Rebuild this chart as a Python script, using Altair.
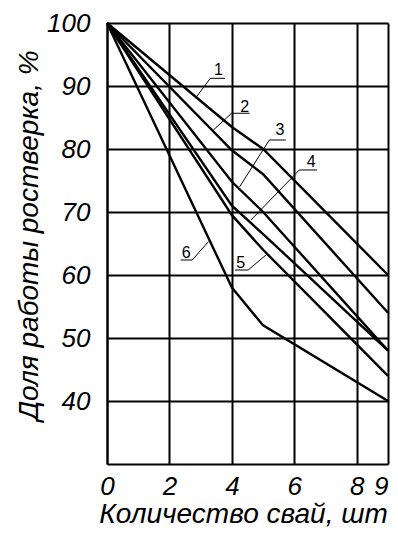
import altair as alt
import pandas as pd

# ---- curve data (x = number of piles, y = share of pile cap work, %) ----
line1_x = [0, 4, 5, 9]
line1_y = [100, 83.5, 80, 60]
line2_x = [0, 4, 5, 9]
line2_y = [100, 79.8, 76, 54]
line3_x = [0, 4, 5, 9]
line3_y = [100, 74.8, 70, 48]
line4_x = [0, 4, 5, 9]
line4_y = [100, 71, 66.5, 48]
line5_x = [0, 4, 5, 9]
line5_y = [100, 69.5, 64, 44]
line6_x = [0, 4, 5, 9]
line6_y = [100, 58, 52, 40]

series_names = ["1", "2", "3", "4", "5", "6"]
series_x = [line1_x, line2_x, line3_x, line4_x, line5_x, line6_x]
series_y = [line1_y, line2_y, line3_y, line4_y, line5_y, line6_y]

# ---- curve labels (number on a shelf with a leader to the curve) ----
label_text = ["1", "2", "3", "4", "5", "6"]
label_tx = [3.57, 4.41, 5.54, 6.54, 4.28, 2.54]
label_ty = [91.75, 85.92, 82.22, 77.19, 61.06, 62.65]
shelf_x1 = [3.31, 3.99, 5.20, 6.16, 4.10, 2.36]
shelf_x2 = [3.78, 4.57, 5.73, 6.73, 4.52, 2.73]
shelf_y = [91.22, 85.67, 81.43, 76.67, 60.79, 62.38]
leader_x1 = [3.31, 3.99, 5.20, 6.16, 4.52, 2.73]
leader_x2 = [2.83, 3.41, 4.25, 4.61, 5.09, 3.25]
leader_y2 = [88.05, 83.02, 74.02, 68.73, 63.17, 65.3]

x_ticks = [0, 2, 4, 6, 8, 9]
y_ticks = [40, 50, 60, 70, 80, 90, 100]
x_title = "Количество свай, шт"
y_title = "Доля работы ростверка, %"

rows = []
for name, xs, ys in zip(series_names, series_x, series_y):
    for xv, yv in zip(xs, ys):
        rows.append({"series": name, "x": xv, "y": yv})
df = pd.DataFrame(rows)

lab = pd.DataFrame({
    "label": label_text, "tx": label_tx, "ty": label_ty,
    "sx1": shelf_x1, "sx2": shelf_x2, "sy": shelf_y,
    "lx1": leader_x1, "ly1": shelf_y, "lx2": leader_x2, "ly2": leader_y2,
})

FONT = "Liberation Sans"
xscale = alt.Scale(domain=[0, 9], nice=False, zero=False)
yscale = alt.Scale(domain=[30, 100], nice=False, zero=False)

xaxis = alt.Axis(
    values=x_ticks, format="d", grid=True, gridColor="black", gridWidth=2, gridOpacity=1,
    domain=True, domainColor="black", domainWidth=2, ticks=False, tickSize=0,
    labelFont=FONT, labelFontStyle="italic", labelFontSize=26, labelColor="black",
    labelPadding=9, labelFlush=False, labelOverlap=False,
    labelAlign={"condition": {"test": "datum.value === 9", "value": "right"}, "value": "center"},
    title=x_title, titleFont=FONT, titleFontStyle="italic", titleFontWeight="normal",
    titleFontSize=28, titleColor="black", titleX=136, titleY=58,
    titleAlign="center", titleBaseline="alphabetic",
)
yaxis = alt.Axis(
    values=y_ticks, format="d", grid=True, gridColor="black", gridWidth=2, gridOpacity=1,
    domain=True, domainColor="black", domainWidth=2, ticks=False, tickSize=0,
    labelFont=FONT, labelFontStyle="italic", labelFontSize=26, labelColor="black",
    labelPadding=17, labelOverlap=False,
    title=y_title, titleFont=FONT, titleFontStyle="italic", titleFontWeight="normal",
    titleFontSize=28, titleColor="black", titleAngle=270, titleX=-70, titleY=212,
    titleAlign="center", titleBaseline="alphabetic",
)

lines = alt.Chart(df).mark_line(color="black", strokeWidth=2.4).encode(
    x=alt.X("x:Q", scale=xscale, axis=xaxis),
    y=alt.Y("y:Q", scale=yscale, axis=yaxis),
    detail="series:N",
    order="x:Q",
)

shelves = alt.Chart(lab).mark_rule(color="black", strokeWidth=1).encode(
    x=alt.X("sx1:Q", scale=xscale, axis=xaxis), x2="sx2:Q",
    y=alt.Y("sy:Q", scale=yscale, axis=yaxis),
)
leaders = alt.Chart(lab).mark_rule(color="black", strokeWidth=1).encode(
    x=alt.X("lx1:Q", scale=xscale, axis=xaxis), x2="lx2:Q",
    y=alt.Y("ly1:Q", scale=yscale, axis=yaxis), y2="ly2:Q",
)
texts = alt.Chart(lab).mark_text(
    font=FONT, fontSize=16, color="black", align="center", baseline="alphabetic"
).encode(
    x=alt.X("tx:Q", scale=xscale, axis=xaxis),
    y=alt.Y("ty:Q", scale=yscale, axis=yaxis),
    text="label:N",
)

chart = alt.layer(lines, shelves, leaders, texts).properties(
    width=281, height=441,
    autosize=alt.AutoSizeParams(type="none"),
    padding={"left": 99, "top": 15, "right": 2, "bottom": 65},
    background="white",
).configure_view(strokeWidth=0)

chart.save("out.html", embed_options={"renderer": "svg", "actions": False})
